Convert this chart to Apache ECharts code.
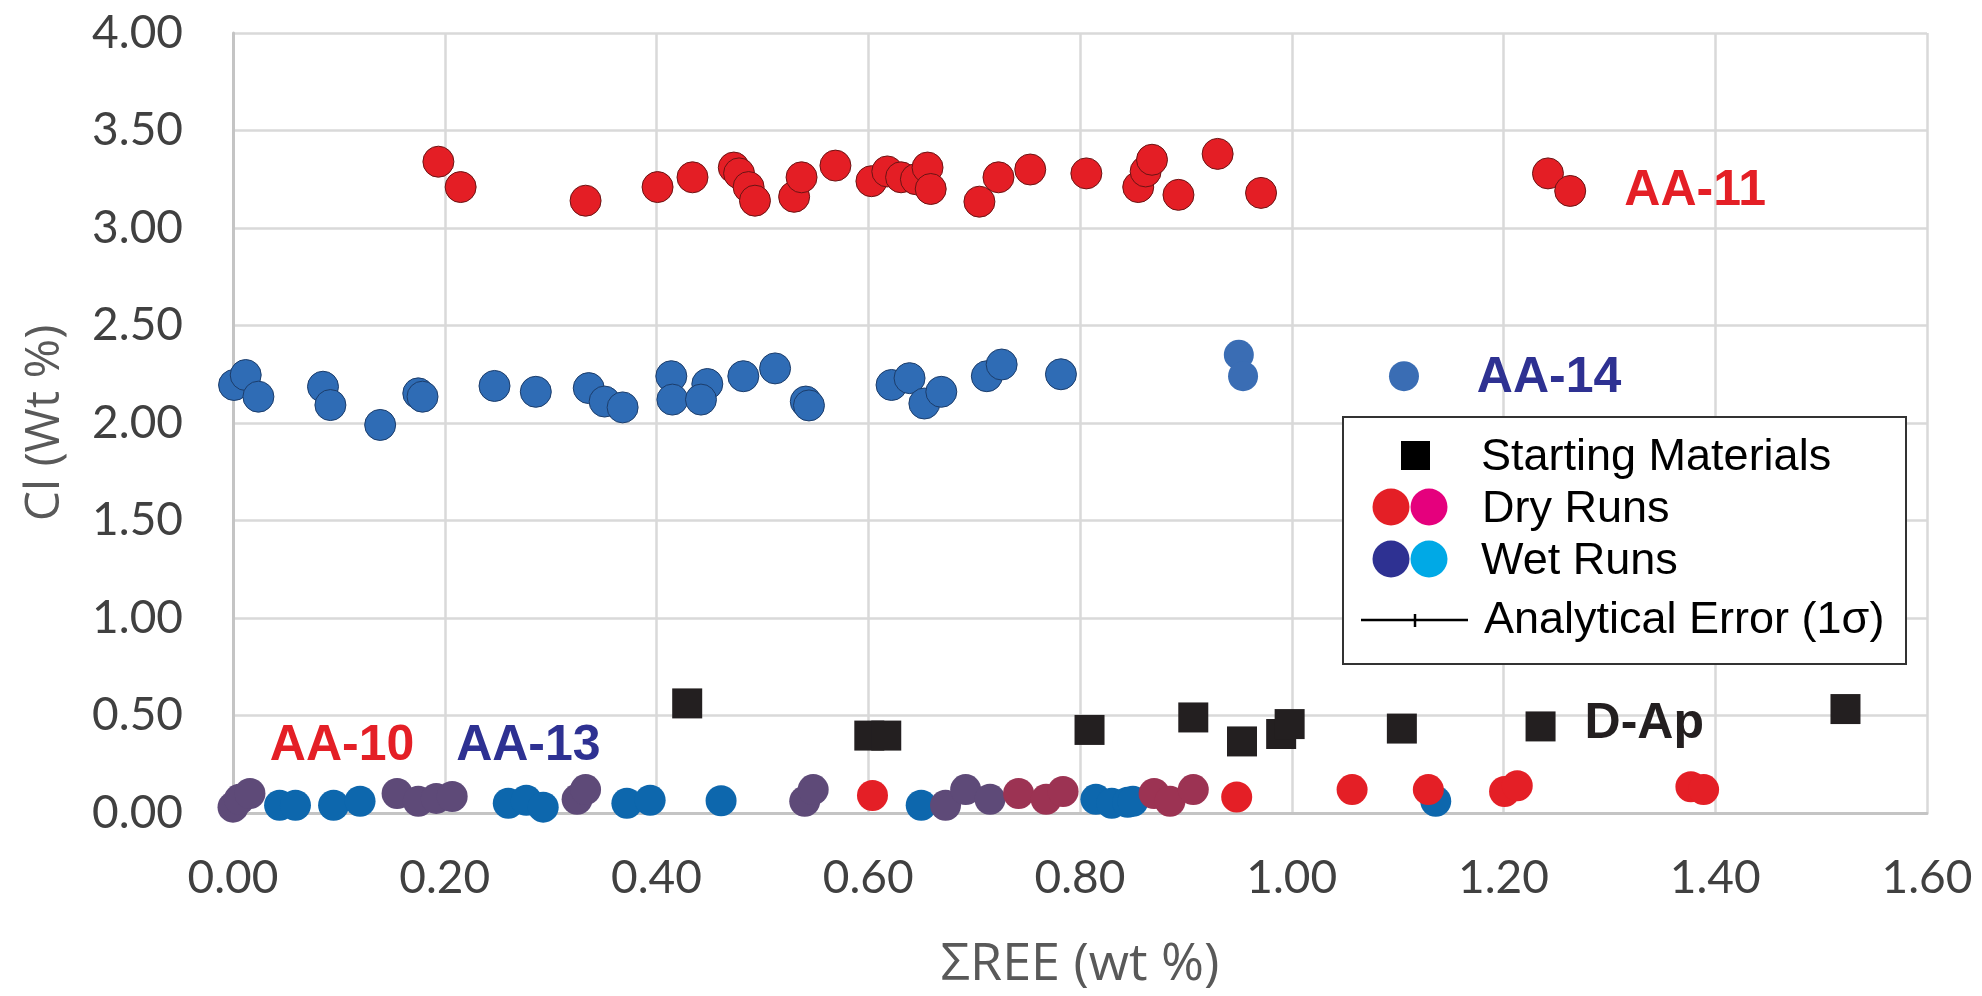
<!DOCTYPE html>
<html>
<head>
<meta charset="utf-8">
<script src="https://cdn.jsdelivr.net/npm/echarts@6/dist/echarts.min.js"></script>
<style>
  html, body { margin: 0; padding: 0; background: #ffffff; }
  #chart { width: 1982px; height: 996px; }
</style>
</head>
<body>
<div id="chart"></div>
<script>
// Axis ticks
const xTicks = [0.00, 0.20, 0.40, 0.60, 0.80, 1.00, 1.20, 1.40, 1.60];
const yTicks = [0.00, 0.50, 1.00, 1.50, 2.00, 2.50, 3.00, 3.50, 4.00];

// AA-11 (dry run) — [ΣREE wt%, Cl wt%]
const aa11 = [
  [0.194, 3.34], [0.215, 3.21], [0.333, 3.14], [0.401, 3.21], [0.434, 3.26],
  [0.473, 3.31], [0.478, 3.28], [0.487, 3.21], [0.493, 3.14], [0.530, 3.16],
  [0.537, 3.26], [0.569, 3.32], [0.603, 3.24], [0.618, 3.29], [0.631, 3.26],
  [0.645, 3.25], [0.656, 3.31], [0.659, 3.20], [0.705, 3.135], [0.723, 3.26],
  [0.753, 3.30], [0.806, 3.28], [0.855, 3.21], [0.862, 3.29], [0.868, 3.35],
  [0.893, 3.17], [0.930, 3.38], [0.971, 3.18], [1.242, 3.28], [1.263, 3.19]
];

// AA-14 (wet run)
const aa14 = [
  [0.001, 2.195], [0.012, 2.246], [0.024, 2.135], [0.085, 2.186], [0.092, 2.092],
  [0.139, 1.99], [0.175, 2.152], [0.179, 2.135], [0.247, 2.19], [0.286, 2.16],
  [0.336, 2.179], [0.351, 2.11], [0.368, 2.08], [0.414, 2.24], [0.415, 2.12],
  [0.448, 2.20], [0.442, 2.12], [0.482, 2.24], [0.512, 2.28], [0.541, 2.11],
  [0.544, 2.09], [0.622, 2.195], [0.639, 2.23], [0.653, 2.10], [0.669, 2.16],
  [0.712, 2.24], [0.726, 2.30], [0.782, 2.25]
];
const aa14Late = [[0.950, 2.35], [0.954, 2.24], [1.106, 2.24]];

// Low-Cl runs (AA-10 / AA-13)
const lowBlue = [
  [0.044, 0.04], [0.059, 0.04], [0.095, 0.04], [0.120, 0.06], [0.260, 0.05],
  [0.277, 0.065], [0.293, 0.03], [0.372, 0.05], [0.394, 0.065], [0.461, 0.063],
  [0.650, 0.04], [0.815, 0.07], [0.830, 0.05], [0.845, 0.055], [0.850, 0.06],
  [1.136, 0.06]
];
const lowPurple = [
  [0.000, 0.03], [0.006, 0.07], [0.016, 0.10], [0.155, 0.10], [0.175, 0.06],
  [0.192, 0.075], [0.207, 0.085], [0.325, 0.07], [0.333, 0.12], [0.540, 0.06],
  [0.548, 0.12], [0.673, 0.04], [0.692, 0.12], [0.715, 0.07]
];
const lowMaroon = [
  [0.742, 0.10], [0.768, 0.07], [0.784, 0.11], [0.870, 0.10], [0.885, 0.06],
  [0.907, 0.12]
];
const lowRed = [
  [0.604, 0.09], [0.948, 0.082], [1.057, 0.12], [1.129, 0.12], [1.201, 0.11],
  [1.213, 0.14], [1.377, 0.135], [1.389, 0.12]
];

// Starting materials (D-Ap)
const startingMaterials = [
  [0.429, 0.562], [0.601, 0.397], [0.617, 0.397], [0.809, 0.426], [0.907, 0.49],
  [0.953, 0.367], [0.990, 0.405], [0.998, 0.456], [1.104, 0.433], [1.235, 0.444],
  [1.523, 0.533]
];

// Sample labels placed in data space
const annotations = [
  { text: 'AA-11', x: 1.381, y: 3.19, color: '#e41f26' },
  { text: 'AA-14', x: 1.243, y: 2.23, color: '#2e3192' },
  { text: 'AA-10', x: 0.103, y: 0.345, color: '#e41f26' },
  { text: 'AA-13', x: 0.279, y: 0.345, color: '#2e3192' },
  { text: 'D-Ap', x: 1.333, y: 0.455, color: '#231f20' }
];

const chart = echarts.init(document.getElementById('chart'), null, { renderer: 'canvas' });

function dots(data, color, border, size) {
  return {
    type: 'scatter',
    data: data,
    symbol: 'circle',
    symbolSize: size || 31,
    silent: true,
    itemStyle: {
      color: color,
      borderColor: border || color,
      borderWidth: border ? 1 : 0,
      opacity: 1
    }
  };
}

const legendFont = '45px "Liberation Sans", Arial, sans-serif';
const LZ = 100;

const option = {
  backgroundColor: '#ffffff',
  animation: false,
  grid: { left: 233, right: 55, top: 33, bottom: 183, containLabel: false },
  xAxis: {
    type: 'value',
    min: xTicks[0],
    max: xTicks[xTicks.length - 1],
    interval: xTicks[1] - xTicks[0],
    name: 'ΣREE (wt %)',
    nameLocation: 'middle',
    nameGap: 152,
    nameTextStyle: {
      fontFamily: '"Open Sans", sans-serif', fontSize: 52, color: '#595959',
      verticalAlign: 'middle'
    },
    axisLine: { show: true, onZero: false, lineStyle: { color: '#c4c4c4', width: 3 } },
    axisTick: { show: false },
    splitLine: { show: true, lineStyle: { color: '#d9d9d9', width: 2.5 } },
    axisLabel: {
      margin: 42,
      fontFamily: 'Lato, sans-serif', fontSize: 46, color: '#404040',
      formatter: v => v.toFixed(2)
    }
  },
  yAxis: {
    type: 'value',
    min: yTicks[0],
    max: yTicks[yTicks.length - 1],
    interval: yTicks[1] - yTicks[0],
    name: 'Cl (Wt %)',
    nameLocation: 'middle',
    nameRotate: 90,
    nameGap: 188,
    nameTextStyle: {
      fontFamily: '"Open Sans", sans-serif', fontSize: 48, color: '#595959',
      verticalAlign: 'middle'
    },
    axisLine: { show: true, lineStyle: { color: '#c4c4c4', width: 3 } },
    axisTick: { show: false },
    splitLine: { show: true, lineStyle: { color: '#d9d9d9', width: 2.5 } },
    axisLabel: {
      margin: 50,
      fontFamily: 'Lato, sans-serif', fontSize: 46, color: '#404040',
      formatter: v => v.toFixed(2)
    }
  },
  series: [
    dots(aa14, '#2f6cb5', '#1c3d6b', 31),
    dots(aa14Late, '#3a6db4', null, 30),
    dots(aa11, '#e41e25', '#6b1414', 31),
    dots(lowBlue, '#0d67ad', null, 31),
    dots(lowPurple, '#5e4a78', null, 31),
    dots(lowMaroon, '#9c3353', null, 31),
    dots(lowRed, '#e41f26', null, 31),
    {
      type: 'scatter',
      data: startingMaterials,
      symbol: 'rect',
      symbolSize: 30,
      silent: true,
      itemStyle: { color: '#231f20', opacity: 1 }
    },
    {
      type: 'scatter',
      silent: true,
      symbolSize: 0,
      itemStyle: { opacity: 1 },
      data: annotations.map(a => ({
        value: [a.x, a.y],
        name: a.text,
        label: { color: a.color }
      })),
      label: {
        show: true,
        position: 'inside',
        formatter: p => p.name,
        fontFamily: '"Liberation Sans", Arial, sans-serif',
        fontWeight: 'bold',
        fontSize: 50,
        opacity: 1
      },
      z: 5
    }
  ],
  graphic: [
    {
      type: 'group',
      left: 1342, top: 416,
      z: LZ,
      zlevel: 1,
      children: [
        { type: 'rect', z: LZ, shape: { x: 0, y: 0, width: 563, height: 247 },
          style: { fill: '#ffffff', stroke: '#333333', lineWidth: 2 } },
        // Starting materials
        { type: 'rect', z: LZ + 1, shape: { x: 58, y: 24, width: 29, height: 29 }, style: { fill: '#000000' } },
        { type: 'text', z: LZ + 1, style: { x: 138, y: 41, text: 'Starting Materials', font: legendFont, fill: '#000', verticalAlign: 'middle' } },
        // Dry runs
        { type: 'circle', z: LZ + 1, shape: { cx: 48, cy: 90, r: 18.5 }, style: { fill: '#e41f26' } },
        { type: 'circle', z: LZ + 1, shape: { cx: 86, cy: 90, r: 18.5 }, style: { fill: '#e5007d' } },
        { type: 'text', z: LZ + 1, style: { x: 139, y: 93, text: 'Dry Runs', font: legendFont, fill: '#000', verticalAlign: 'middle' } },
        // Wet runs
        { type: 'circle', z: LZ + 1, shape: { cx: 48, cy: 142, r: 18.5 }, style: { fill: '#2e3192' } },
        { type: 'circle', z: LZ + 1, shape: { cx: 86, cy: 142, r: 18.5 }, style: { fill: '#00a9e6' } },
        { type: 'text', z: LZ + 1, style: { x: 138, y: 145, text: 'Wet Runs', font: legendFont, fill: '#000', verticalAlign: 'middle' } },
        // Analytical error
        { type: 'line', z: LZ + 1, shape: { x1: 18, y1: 203, x2: 125, y2: 203 }, style: { stroke: '#000', lineWidth: 2.5 } },
        { type: 'line', z: LZ + 1, shape: { x1: 72, y1: 197, x2: 72, y2: 210 }, style: { stroke: '#000', lineWidth: 2.5 } },
        { type: 'text', z: LZ + 1, style: { x: 141, y: 204, text: 'Analytical Error (1σ)', font: legendFont, fill: '#000', verticalAlign: 'middle' } }
      ]
    }
  ]
};

chart.setOption(option);
</script>
</body>
</html>
